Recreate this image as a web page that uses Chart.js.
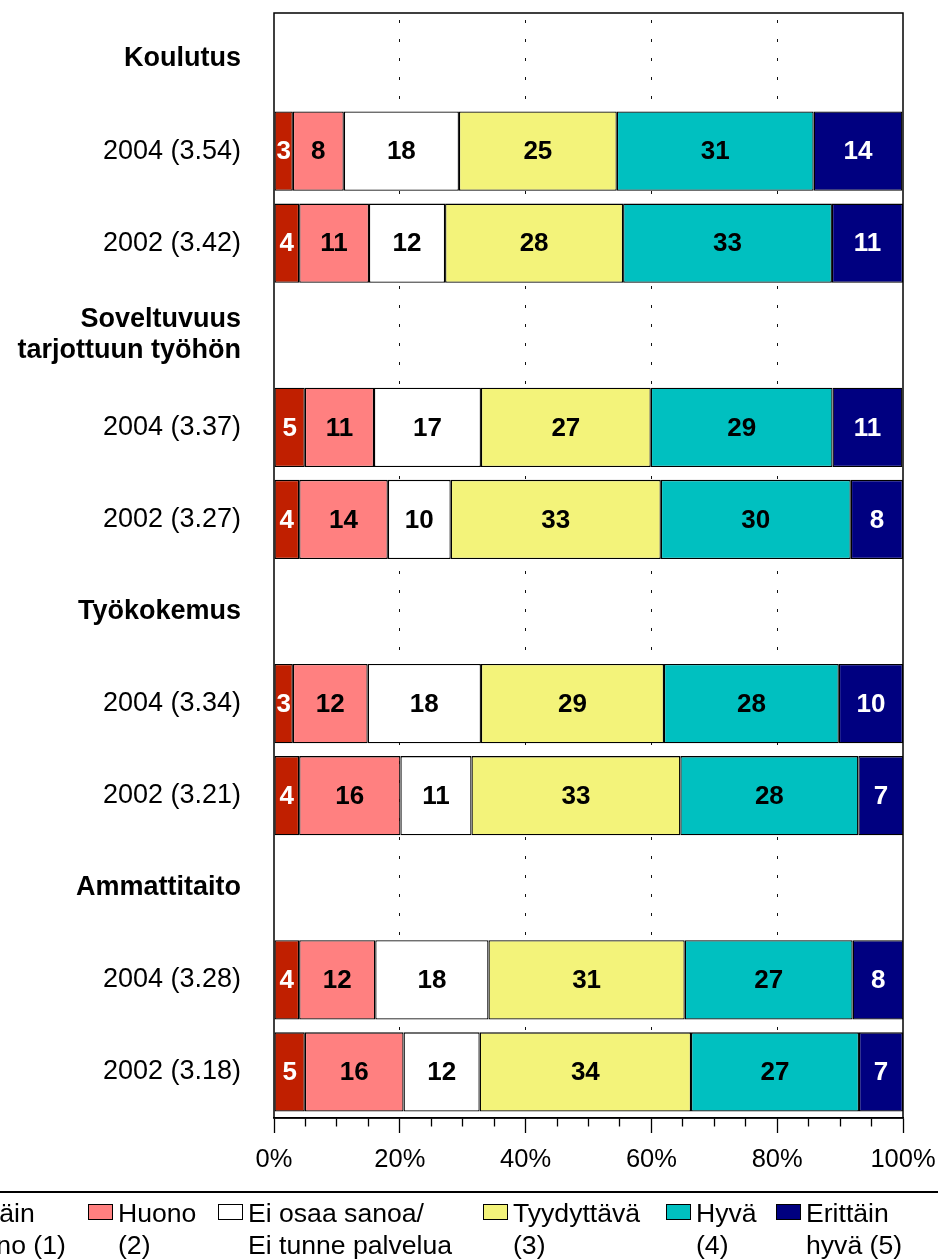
<!DOCTYPE html>
<html>
<head>
<meta charset="utf-8">
<script src="https://cdn.jsdelivr.net/npm/chart.js@4/dist/chart.umd.min.js"></script>
<style>
  html, body { margin: 0; padding: 0; background: #fff; }
  #wrap { position: relative; width: 938px; height: 1260px; overflow: hidden; }
  #legend { position: absolute; left: 0; top: 0; width: 938px; height: 1260px; pointer-events: none;
            font-family: 'Liberation Sans', Arial, sans-serif; font-size: 26.6px; color: #000; }
  .lg-line { position: absolute; left: 0; top: 1191px; width: 938px; height: 0; border-top: 2px solid #000; }
  .lg-box { position: absolute; top: 1204px; width: 25px; height: 16px; box-sizing: border-box; border: 1.5px solid #000; }
  .lg-text { position: absolute; top: 1197px; line-height: 32px; white-space: nowrap; }
</style>
</head>
<body>
<div id="wrap">
  <canvas id="c" width="938" height="1260"></canvas>
  <div id="legend"></div>
</div>
<script>
// ---- data ----
const categories = [
  'Koulutus', '2004 (3.54)', '2002 (3.42)',
  ['Soveltuvuus', 'tarjottuun työhön'], '2004 (3.37)', '2002 (3.27)',
  'Työkokemus', '2004 (3.34)', '2002 (3.21)',
  'Ammattitaito', '2004 (3.28)', '2002 (3.18)'
];
const seriesNames = [
  ['Erittäin', 'huono (1)'],
  ['Huono', '(2)'],
  ['Ei osaa sanoa/', 'Ei tunne palvelua'],
  ['Tyydyttävä', '(3)'],
  ['Hyvä', '(4)'],
  ['Erittäin', 'hyvä (5)']
];
const erittainHuono = [null, 3.0, 4.0, null, 4.9, 4.0, null, 3.0, 4.0, null, 4.0, 4.9];
const huono         = [null, 8.1, 11.1, null, 11.0, 14.1, null, 11.9, 16.1, null, 12.1, 15.7];
const eiOsaaSanoa   = [null, 18.3, 12.1, null, 17.0, 10.0, null, 18.0, 11.3, null, 18.0, 12.1];
const tyydyttava    = [null, 25.1, 28.3, null, 27.0, 33.4, null, 29.1, 33.2, null, 31.2, 33.6];
const hyva          = [null, 31.3, 33.2, null, 28.9, 30.2, null, 27.8, 28.3, null, 26.7, 26.7];
const erittainHyva  = [null, 14.1, 11.3, null, 11.1, 8.3, null, 10.2, 7.2, null, 8.1, 7.0];
const xTickStep = 5;
const xLabelStep = 20;

// ---- styles ----
const FONT = "'Liberation Sans', Arial, sans-serif";
const colors = ['#C01F00', '#FF8080', '#FFFFFF', '#F3F37A', '#00C0C0', '#000080'];
const labelColors = ['#FFFFFF', '#000000', '#000000', '#000000', '#000000', '#FFFFFF'];
const seriesData = [erittainHuono, huono, eiOsaaSanoa, tyydyttava, hyva, erittainHyva];
const isHeader = categories.map((_, i) => seriesData.every(s => s[i] == null));

Chart.defaults.font.family = FONT;
Chart.defaults.color = '#000';

const framePlugin = {
  id: 'frame',
  afterDatasetsDraw(chart) {
    const {ctx, chartArea: a} = chart;
    ctx.save();
    ctx.strokeStyle = '#000';
    ctx.lineWidth = 1.5;
    ctx.strokeRect(a.left, a.top, a.right - a.left, a.bottom - a.top);
    ctx.restore();
  }
};

const valueLabelPlugin = {
  id: 'valueLabels',
  afterDatasetsDraw(chart) {
    const {ctx} = chart;
    ctx.save();
    ctx.font = 'bold 26px ' + FONT;
    ctx.textAlign = 'center';
    ctx.textBaseline = 'middle';
    chart.data.datasets.forEach((ds, i) => {
      const meta = chart.getDatasetMeta(i);
      meta.data.forEach((el, j) => {
        const v = ds.data[j];
        if (v == null) return;
        const p = el.getProps(['x', 'y', 'base'], true);
        ctx.fillStyle = labelColors[i];
        ctx.fillText(String(Math.round(v)), (p.x + p.base) / 2, p.y + 1);
      });
    });
    ctx.restore();
  }
};

const chart = new Chart(document.getElementById('c'), {
  type: 'bar',
  data: {
    labels: categories,
    datasets: seriesData.map((d, i) => ({
      label: seriesNames[i].join(' '),
      data: d,
      backgroundColor: colors[i],
      borderColor: '#000',
      borderWidth: 1.3,
      borderSkipped: false,
      barPercentage: 0.86,
      categoryPercentage: 1.0
    }))
  },
  options: {
    indexAxis: 'y',
    responsive: false,
    animation: false,
    layout: { padding: { left: 0, right: 35, top: 13, bottom: 85 } },
    plugins: { legend: { display: false }, tooltip: { enabled: false } },
    scales: {
      x: {
        stacked: true,
        min: 0,
        max: 100,
        afterFit: (s) => { s.height = 57; s.paddingLeft = 0; s.paddingRight = 0; s.paddingTop = 0; s.paddingBottom = 0; },
        ticks: {
          stepSize: xTickStep,
          autoSkip: false,
          maxRotation: 0,
          padding: 12,
          font: { size: 25.5 },
          color: '#000',
          callback: (v) => (v % xLabelStep === 0 ? v + '%' : '')
        },
        grid: {
          display: true,
          drawOnChartArea: true,
          drawTicks: true,
          tickLength: 15,
          lineWidth: 1,
          color: (ctx) => {
            const v = ctx.tick ? ctx.tick.value : null;
            return (v != null && v % xLabelStep === 0 && v > 0 && v < 100) ? '#111' : 'rgba(0,0,0,0)';
          },
          tickColor: '#000',
          tickWidth: 1.3,
          tickBorderDash: (ctx) => {
            const v = ctx.tick ? ctx.tick.value : 0;
            return v % xLabelStep === 0 ? [] : [8, 60];
          }
        },
        border: { display: true, color: '#000', width: 1.5, dash: [3, 16], dashOffset: 12 }
      },
      y: {
        stacked: true,
        afterFit: (s) => { s.width = 274; s.paddingLeft = 0; s.paddingRight = 0; s.paddingTop = 0; s.paddingBottom = 0; },
        grid: { display: false, drawTicks: false },
        border: { display: false },
        ticks: {
          padding: 33,
          color: '#000',
          font: (ctx) => ({ size: 27, family: FONT, weight: isHeader[ctx.index] ? 'bold' : 'normal', lineHeight: 1.15 })
        }
      }
    }
  },
  plugins: [framePlugin, valueLabelPlugin]
});

// ---- legend (HTML) ----
const legendLefts = [-78, 88, 218, 483, 666, 776];
const legend = document.getElementById('legend');
const line = document.createElement('div');
line.className = 'lg-line';
legend.appendChild(line);
chart.data.datasets.forEach((ds, i) => {
  const box = document.createElement('div');
  box.className = 'lg-box';
  box.style.left = legendLefts[i] + 'px';
  box.style.background = ds.backgroundColor;
  legend.appendChild(box);
  const txt = document.createElement('div');
  txt.className = 'lg-text';
  txt.style.left = (legendLefts[i] + 30) + 'px';
  txt.innerHTML = seriesNames[i].map(s => s.replace(/&/g, '&amp;').replace(/</g, '&lt;')).join('<br>');
  legend.appendChild(txt);
});
</script>
</body>
</html>
